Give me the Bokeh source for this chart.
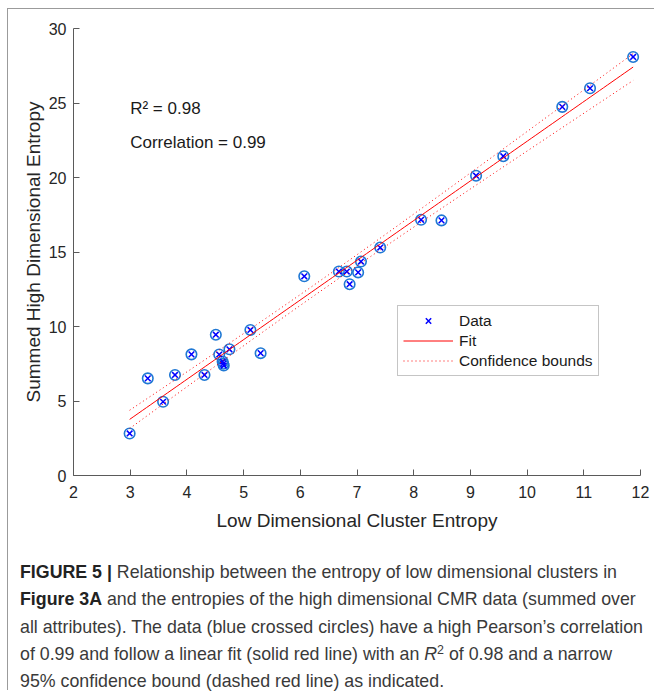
import numpy as np
from bokeh.plotting import figure
from bokeh.models import Range1d, FixedTicker, Label, Legend, LegendItem, Div
from bokeh.layouts import column
from bokeh.embed import file_html
from bokeh.resources import INLINE

# ---- data ----
low_entropy = [2.99, 3.31, 3.58, 3.79, 4.08, 4.31, 4.51, 4.57, 4.63, 4.64, 4.65, 4.75,
               5.12, 5.30, 6.07, 6.68, 6.82, 7.02, 6.87, 7.07, 7.41, 8.13, 8.49, 9.10,
               9.58, 10.62, 11.11, 11.87]
high_entropy = [2.82, 6.52, 4.95, 6.75, 8.13, 6.75, 9.45, 8.12, 7.65, 7.50, 7.38, 8.47,
                9.77, 8.21, 13.37, 13.69, 13.69, 13.63, 12.84, 14.36, 15.30, 17.16, 17.12, 20.12,
                21.43, 24.74, 25.99, 28.09]
x_ticks = [2, 3, 4, 5, 6, 7, 8, 9, 10, 11, 12]
y_ticks = [0, 5, 10, 15, 20, 25, 30]
legend_labels = ["Data", "Fit", "Confidence bounds"]
r2_text = "R\u00b2 = 0.98"
corr_text = "Correlation = 0.99"
x_label = "Low Dimensional Cluster Entropy"
y_label = "Summed High Dimensional Entropy"

# ---- linear fit and 95% confidence bounds computed from the data ----
xa = np.array(low_entropy)
ya = np.array(high_entropy)
slope, intercept = np.polyfit(xa, ya, 1)
n = len(xa)
resid = ya - (slope * xa + intercept)
s = np.sqrt(np.sum(resid ** 2) / (n - 2))
t_crit = 2.056  # Student t, 95 %, df = 26
xf = np.linspace(xa.min(), xa.max(), 120)
yf = slope * xf + intercept
half = t_crit * s * np.sqrt(1.0 / n + (xf - xa.mean()) ** 2 / np.sum((xa - xa.mean()) ** 2))

FONT = "Liberation Sans"

p = figure(width=646, height=543, x_range=Range1d(2, 12), y_range=Range1d(0, 30),
           output_backend="svg", toolbar_location=None,
           min_border_left=65, min_border_right=14, min_border_top=19, min_border_bottom=77)
p.margin = 0
p.grid.visible = False
p.outline_line_color = None
p.background_fill_color = "white"
p.border_fill_color = "white"

for ax in (p.xaxis[0], p.yaxis[0]):
    ax.axis_line_color = "#5a5a5a"
    ax.axis_line_width = 1
    ax.major_tick_line_color = "#5a5a5a"
    ax.major_tick_in = 6
    ax.major_tick_out = 0
    ax.minor_tick_line_color = None
    ax.major_label_text_font = FONT
    ax.major_label_text_font_size = "16px"
    ax.major_label_text_color = "#262626"
    ax.axis_label_text_font = FONT
    ax.axis_label_text_font_size = "19px"
    ax.axis_label_text_font_style = "normal"
    ax.axis_label_text_color = "#262626"

p.xaxis.ticker = FixedTicker(ticks=x_ticks)
p.yaxis.ticker = FixedTicker(ticks=y_ticks)
p.xaxis.axis_label = x_label
p.yaxis.axis_label = y_label
p.xaxis.major_label_standoff = 10
p.yaxis.major_label_standoff = 7
p.xaxis.axis_label_standoff = 9
p.yaxis.axis_label_standoff = 2

circ = p.scatter(low_entropy, high_entropy, marker="circle", size=10.5,
                 fill_color=None, line_color="#1f78d4", line_width=1.6)
xs = p.scatter(low_entropy, high_entropy, marker="x", size=8,
               line_color="#0000ff", line_width=1.5)
fit = p.line(xf, yf, line_color="#ff0000", line_width=1)
upper = p.line(xf, yf + half, line_color="#ff0000", line_width=1, line_dash="1 3")
lower = p.line(xf, yf - half, line_color="#ff0000", line_width=1, line_dash="1 3")

legend = Legend(items=[LegendItem(label=legend_labels[0], renderers=[xs]),
                       LegendItem(label=legend_labels[1], renderers=[fit]),
                       LegendItem(label=legend_labels[2], renderers=[upper])],
                location=(324, 99))
legend.label_text_font = FONT
legend.label_text_font_size = "15.5px"
legend.label_text_color = "#1a1a1a"
legend.glyph_width = 50
legend.glyph_height = 19
legend.label_height = 19
legend.label_standoff = 6
legend.padding = 5
legend.spacing = 1
legend.margin = 0
legend.border_line_color = "#8c8c8c"
legend.border_line_width = 1
legend.background_fill_color = "white"
legend.background_fill_alpha = 1
p.add_layout(legend)

p.add_layout(Label(x=3.0, y=24.62, text=r2_text, text_font=FONT, text_font_size="17px",
                   text_baseline="middle", text_color="#1a1a1a"))
p.add_layout(Label(x=3.0, y=22.38, text=corr_text, text_font=FONT, text_font_size="17px",
                   text_baseline="middle", text_color="#1a1a1a"))

caption_html = (
    "<div style=\"font-family:'Liberation Sans', Arial, sans-serif; font-size:17.8px; "
    "line-height:27.3px; color:#3a3a3a; white-space:nowrap;\">"
    "<b style='color:#222'>FIGURE 5 |</b> Relationship between the entropy of low dimensional clusters in<br>"
    "<b style='color:#222'>Figure 3A</b> and the entropies of the high dimensional CMR data (summed over<br>"
    "all attributes). The data (blue crossed circles) have a high Pearson\u2019s correlation<br>"
    "of 0.99 and follow a linear fit (solid red line) with an <i>R</i>"
    "<span style='font-size:70%; vertical-align:0.5em; line-height:0'>2</span> of 0.98 and a narrow<br>"
    "95% confidence bound (dashed red line) as indicated."
    "</div>"
)
cap = Div(text=caption_html, width=646, height=138, margin=0,
          styles={"padding-left": "12px", "padding-top": "7px", "box-sizing": "border-box"})

layout = column(p, cap, spacing=0, margin=(8, 0, 0, 7),
                styles={"border-top": "1px solid #9b9b9b", "border-left": "1px solid #9b9b9b"})

open("out.html", "w").write(file_html(layout, INLINE))
